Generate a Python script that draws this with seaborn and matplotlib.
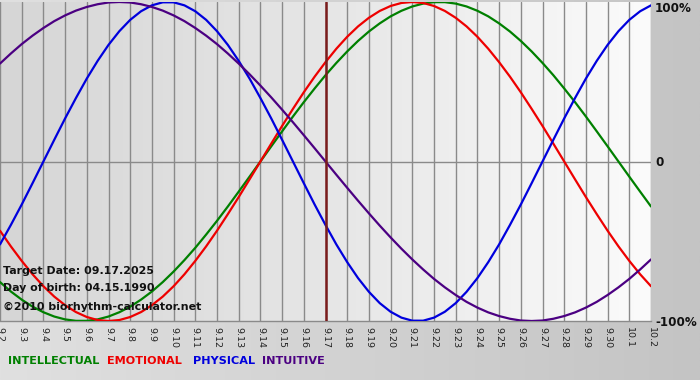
import numpy as np
import pandas as pd
import matplotlib
matplotlib.use("Agg")
import matplotlib.pyplot as plt
import seaborn as sns
from matplotlib.colors import LinearSegmentedColormap

# ---- data (one value every half day) ----
dates = ["9.2", "9.3", "9.4", "9.5", "9.6", "9.7", "9.8", "9.9", "9.10", "9.11",
         "9.12", "9.13", "9.14", "9.15", "9.16", "9.17", "9.18", "9.19", "9.20",
         "9.21", "9.22", "9.23", "9.24", "9.25", "9.26", "9.27", "9.28", "9.29",
         "9.30", "10.1", "10.2"]
physical = [-0.520, -0.398, -0.270, -0.136, 0.000, 0.136, 0.270, 0.398, 0.520, 0.631,
            0.731, 0.817, 0.888, 0.942, 0.979, 0.998, 0.998, 0.979, 0.942, 0.888,
            0.817, 0.731, 0.631, 0.520, 0.398, 0.270, 0.136, 0.000, -0.136, -0.270,
            -0.398, -0.520, -0.631, -0.731, -0.817, -0.888, -0.942, -0.979, -0.998, -0.998,
            -0.979, -0.942, -0.888, -0.817, -0.731, -0.631, -0.520, -0.398, -0.270, -0.136,
            0.000, 0.136, 0.270, 0.398, 0.520, 0.631, 0.731, 0.817, 0.888, 0.942, 0.979]
emotional = [-0.434, -0.532, -0.623, -0.707, -0.782, -0.847, -0.901, -0.944, -0.975, -0.994,
             -1.000, -0.994, -0.975, -0.944, -0.901, -0.847, -0.782, -0.707, -0.623, -0.532,
             -0.434, -0.330, -0.223, -0.112, 0.000, 0.112, 0.223, 0.330, 0.434, 0.532,
             0.623, 0.707, 0.782, 0.847, 0.901, 0.944, 0.975, 0.994, 1.000, 0.994,
             0.975, 0.944, 0.901, 0.847, 0.782, 0.707, 0.623, 0.532, 0.434, 0.330,
             0.223, 0.112, 0.000, -0.112, -0.223, -0.330, -0.434, -0.532, -0.623, -0.707, -0.782]
intellectual = [-0.756, -0.815, -0.866, -0.910, -0.945, -0.972, -0.990, -0.999, -0.999, -0.990,
                -0.972, -0.945, -0.910, -0.866, -0.815, -0.756, -0.690, -0.618, -0.541, -0.458,
                -0.372, -0.282, -0.189, -0.095, 0.000, 0.095, 0.189, 0.282, 0.372, 0.458,
                0.541, 0.618, 0.690, 0.756, 0.815, 0.866, 0.910, 0.945, 0.972, 0.990,
                0.999, 0.999, 0.990, 0.972, 0.945, 0.910, 0.866, 0.815, 0.756, 0.690,
                0.618, 0.541, 0.458, 0.372, 0.282, 0.189, 0.095, 0.000, -0.095, -0.189, -0.282]
intuitive = [0.614, 0.677, 0.736, 0.789, 0.837, 0.880, 0.916, 0.946, 0.969, 0.986,
             0.997, 1.000, 0.997, 0.986, 0.969, 0.946, 0.916, 0.880, 0.837, 0.789,
             0.736, 0.677, 0.614, 0.547, 0.476, 0.402, 0.325, 0.246, 0.165, 0.083,
             0.000, -0.083, -0.165, -0.246, -0.325, -0.402, -0.476, -0.547, -0.614, -0.677,
             -0.736, -0.789, -0.837, -0.880, -0.916, -0.946, -0.969, -0.986, -0.997, -1.000,
             -0.997, -0.986, -0.969, -0.946, -0.916, -0.880, -0.837, -0.789, -0.736, -0.677, -0.614]
series_names = ["INTELLECTUAL", "EMOTIONAL", "PHYSICAL", "INTUITIVE"]
series_colors = ["#008000", "#ee0000", "#0000dd", "#4b0082"]
target_date = "9.17"
y_ticks = [-1, 0, 1]
y_labels = ["-100%", "0", "100%"]

# ---- long-form table ----
rows = []
for name, vals in zip(series_names, [intellectual, emotional, physical, intuitive]):
    for i, v in enumerate(vals):
        rows.append({"day": i / 2.0, "value": v, "series": name})
df = pd.DataFrame(rows)

sns.set_theme(style="white")
plt.rcParams['font.family'] = ['DejaVu Sans']

W, H = 700, 380
fig = plt.figure(figsize=(W / 100, H / 100), dpi=100)

# figure background gradient
bg = fig.add_axes([0, 0, 1, 1], zorder=-10)
grad = np.linspace(0, 1, 256).reshape(1, -1)
bg_cmap = LinearSegmentedColormap.from_list("bg", ["#e0e0e0", "#c4c4c4"])
bg.imshow(grad, aspect="auto", cmap=bg_cmap, extent=[0, 1, 0, 1])
bg.set_xlim(0, 1); bg.set_ylim(0, 1)
bg.axis("off")

# plot axes
top_px, bot_px, right_px = 2, 321, 651
ax = fig.add_axes([0, (H - bot_px) / H, right_px / W, (bot_px - top_px) / H])
ax.set_xlim(0, len(dates) - 1)
ax.set_ylim(-1, 1)
plot_cmap = LinearSegmentedColormap.from_list("pl", ["#d6d6d6", "#e6e6e6", "#fbfbfb"])
ax.imshow(grad, aspect="auto", cmap=plot_cmap,
          extent=[0, len(dates) - 1, -1, 1], zorder=0)

for i in range(len(dates)):
    ax.axvline(i, color="#8a8a8a", lw=1.0, zorder=1)
ax.axhline(0, color="#8a8a8a", lw=1.0, zorder=1)

sns.lineplot(data=df, x="day", y="value", hue="series", hue_order=series_names,
             palette=series_colors, lw=1.6, legend=False, ax=ax, zorder=3,
             sort=False)

ax.axvline(dates.index(target_date), color="#7a1c1c", lw=1.8, zorder=4)

ax.set_xticks(range(len(dates)))
ax.set_xticklabels(dates, rotation=270, fontsize=6.8, color="#222222")
ax.tick_params(axis="x", length=0, pad=4)
ax.yaxis.tick_right()
ax.set_yticks(y_ticks)
ax.set_yticklabels(y_labels, fontsize=8.6, fontweight="bold", color="#111111")
ax.tick_params(axis="y", length=0, pad=3)
ax.get_yticklabels()[-1].set_verticalalignment("top")
ax.set_xlabel("")
ax.set_ylabel("")
for s in ["top", "left", "right"]:
    ax.spines[s].set_visible(False)
ax.spines["bottom"].set_color("#8a8a8a")
ax.spines["bottom"].set_linewidth(1.0)

# annotations
info = ["Target Date: 09.17.2025", "Day of birth: 04.15.1990", "©2010 biorhythm-calculator.net"]
for txt, ypx in zip(info, [271, 288, 307]):
    fig.text(3 / W, 1 - ypx / H, txt, fontsize=7.9, fontweight="bold",
             color="#111111", ha="left", va="center")

# colored legend labels
for name, col, xpx in zip(series_names, series_colors, [8, 107, 193, 262]):
    fig.text(xpx / W, 1 - 361 / H, name, fontsize=8.1, fontweight="bold",
             color=col, ha="left", va="center")

fig.savefig("out.png", dpi=100)
